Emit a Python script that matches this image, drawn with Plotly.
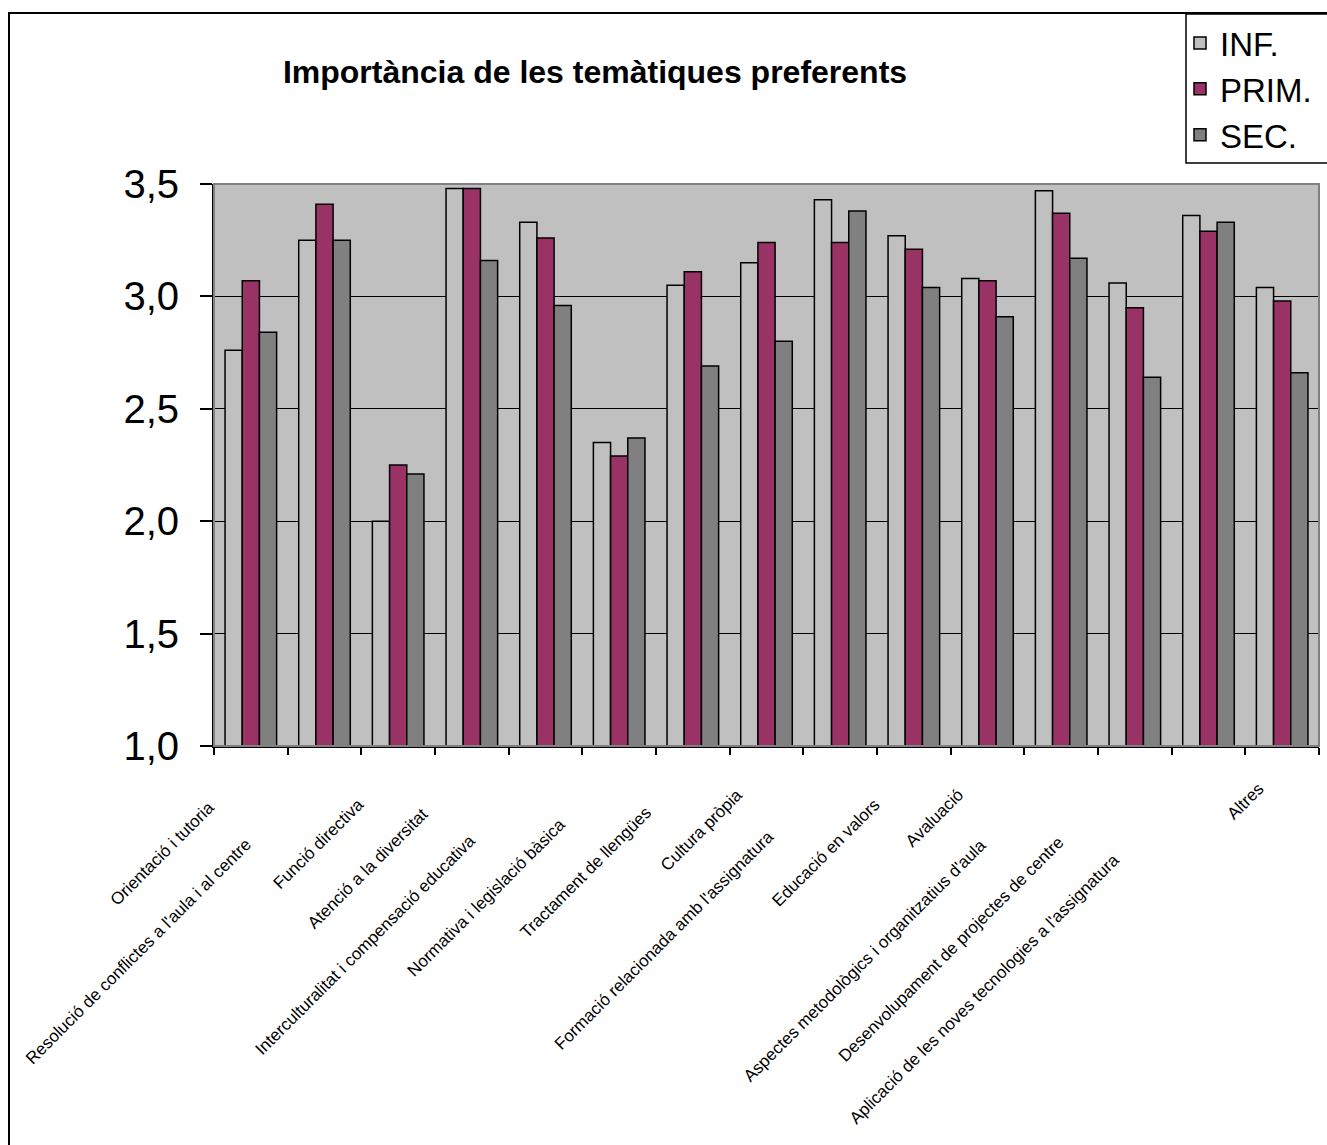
import plotly.graph_objects as go

categories = [
    "Orientació i tutoria",
    "Resolució de conflictes a l'aula i al centre",
    "Funció directiva",
    "Atenció a la diversitat",
    "Interculturalitat i compensació educativa",
    "Normativa i legislació bàsica",
    "Tractament de llengües",
    "Cultura pròpia",
    "Formació relacionada amb l'assignatura",
    "Educació en valors",
    "Avaluació",
    "Aspectes metodològics i organitzatius d'aula",
    "Desenvolupament de projectes de centre",
    "Aplicació de les noves tecnologies a l'assignatura",
    "Altres",
]
inf_vals = [2.76, 3.25, 2.00, 3.48, 3.33, 2.35, 3.05, 3.15, 3.43, 3.27, 3.08, 3.47, 3.06, 3.36, 3.04]
prim_vals = [3.07, 3.41, 2.25, 3.48, 3.26, 2.29, 3.11, 3.24, 3.24, 3.21, 3.07, 3.37, 2.95, 3.29, 2.98]
sec_vals = [2.84, 3.25, 2.21, 3.16, 2.96, 2.37, 2.69, 2.80, 3.38, 3.04, 2.91, 3.17, 2.64, 3.33, 2.66]
series_names = ["INF.", "PRIM.", "SEC."]
y_ticks = [1.0, 1.5, 2.0, 2.5, 3.0, 3.5]
title_text = "Importància de les temàtiques preferents"

# label placement (pixels below the axis where each rotated label ends)
label_drop = [59, 96, 56, 66, 92, 76, 64, 47, 89, 56, 47, 97, 94, 112, 41]

colors = ["#C0C0C0", "#993366", "#808080"]
W, H = 1327, 1145
L, R, T, B = 214, 8, 184, 399

fig = go.Figure()
for name, vals, col in zip(series_names, [inf_vals, prim_vals, sec_vals], colors):
    fig.add_trace(go.Bar(
        x=categories, y=vals, name=name,
        marker=dict(color=col, line=dict(color="black", width=1.5)),
    ))

annotations = []
for cat, d in zip(categories, label_drop):
    annotations.append(dict(
        x=cat, xref="x", y=0, yref="paper",
        text=cat, showarrow=False, textangle=-45,
        xanchor="right", yanchor="top",
        xshift=-(d - 29), yshift=-(d - 10),
        font=dict(family="Liberation Sans, Arial", size=17, color="black"),
    ))

pw = W - L - R
ph = H - T - B
def px2x(px):
    return (px - L) / pw
def py2y(py):
    return (H - B - py) / ph

shapes = [
    # chart area border (left and top visible, rest outside the view)
    dict(type="rect", xref="paper", yref="paper",
         x0=px2x(9), x1=px2x(1360), y0=py2y(1180), y1=py2y(13),
         line=dict(color="black", width=2), layer="below"),
    # legend frame
    dict(type="rect", xref="paper", yref="paper",
         x0=px2x(1186), x1=px2x(1400), y0=py2y(163), y1=py2y(14),
         line=dict(color="black", width=1.5), fillcolor="white", layer="below"),
    # plot area border
    dict(type="rect", xref="paper", yref="paper", x0=0, x1=1, y0=0, y1=1,
         line=dict(color="#808080", width=2), layer="above"),
]

fig.update_layout(
    width=W, height=H,
    margin=dict(l=L, r=R, t=T, b=B, autoexpand=False),
    paper_bgcolor="white",
    plot_bgcolor="#C0C0C0",
    barmode="group", bargap=0.3, bargroupgap=0,
    separators=",.",
    font=dict(family="Liberation Sans, Arial", color="black"),
    title=dict(text="<b>" + title_text + "</b>", x=595 / W, xref="container", xanchor="center",
               y=1 - 72 / H, yref="container", yanchor="middle",
               font=dict(size=32, family="Liberation Sans, Arial", color="black")),
    legend=dict(xref="container", yref="container", x=1180 / W, y=1 - 15 / H,
                xanchor="left", yanchor="top",
                bgcolor="rgba(0,0,0,0)", borderwidth=0,
                font=dict(size=33, family="Liberation Sans, Arial", color="black"),
                itemwidth=30, tracegroupgap=0),
    annotations=annotations,
    shapes=shapes,
    showlegend=True,
)
fig.update_xaxes(
    type="category", range=[-0.5, len(categories) - 0.5], autorange=False,
    tickson="boundaries", ticks="outside", ticklen=7, tickwidth=1.5,
    tickcolor="black", showticklabels=False, showline=True, linecolor="black", linewidth=2,
    showgrid=False, zeroline=False,
)
fig.update_yaxes(
    range=[1, 3.5], autorange=False, tickvals=y_ticks, tickformat=".1f", ticks="outside", ticklen=12,
    tickwidth=1.5, tickcolor="black", showline=True, linecolor="black", linewidth=2,
    showgrid=True, gridcolor="black", gridwidth=1.2, zeroline=False,
    tickfont=dict(size=40, family="Liberation Sans, Arial", color="black"),
    ticklabelstandoff=13,
)

fig.write_html("out.html", config={"displayModeBar": False},
               post_script="document.body.style.margin='0';document.body.style.overflow='hidden';")
